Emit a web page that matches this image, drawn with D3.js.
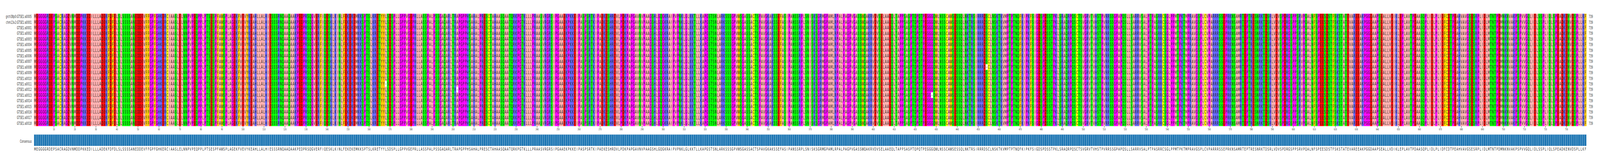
<!DOCTYPE html>
<html><head><meta charset="utf-8">
<script src="https://cdn.jsdelivr.net/npm/d3@7"></script>
<style>html,body{margin:0;padding:0;background:#fff;overflow:hidden;width:100%;height:100%}svg{display:block;width:100vw;height:100vh}</style>
</head><body><svg id="c" viewBox="0 0 7677 423" preserveAspectRatio="none"></svg>
<script>
const seqNames = ["grch38p0:GTSE1:a0005","chm13v2:GTSE1:a0001"].concat(d3.range(1,19).map(i=>"GTSE1:a"+String(i).padStart(4,"0")));
const seqSegments = [
"MEGGGGRDEPSACRAGDVNMDDPKKEDILLLADEKFDFDLSLSSSSANEDDEVFFGPFGHKERCIAASLELNNP",
"VPEQPPLPTSESPFAWSPLAGEKFVEVYKEAHLLALHIESSSRNQAAQAAKPEDPRSQGVERFIQESKLKINLFE",
"KEKEMKKSPTSLKRETYYLSDSPLLGPPVGEPRLLASSPALPSSGAQARLTRAPGPPHSAHALPRESCTAHAAS",
"QAATQRKPGTKLLLPRAASVRGRSIPGAAEKPKKEIPASPSRTKIPAEKESHRDVLPDKPAPGAVNVPAAGSHL",
"GQGKRAIPVPNKLGLKKTLLKAPGSTSNLARKSSSGPVWSGASSACTSPAVGKAKSSEFASIPANSSRPLSNIS",
"KSGRMGPAMLRPALPAGPVGASSWQAKRVDVSELAAEQLTAPPSASPTQPQTPEGGGQWLNSSCAWSESSQLNK",
"TRSIRRRDSCLNSKTKVMPTPTNQFKIPKFSIGDSPDSSTPKLSRAQRPQSCTSVGRVTVHSTPVRRSSGPAPQ",
"SLLSARRVSALPTPASRRCSGLPPMTPKTMPRAVGSPLCVPARRRSSEPRKNSAMRTEPTRESNRKTDSRLVDV",
"SPDRGSPPSRVPQALNFSPEESDSTFSKSTATEVAREEAKPGGDAAPSEALLVDIKLEPLAVTPDAASQPLIDL",
"PLIDFCDTPEAHVAVGSESRPLIDLMTNTPDMNKNVAKPSPVVGQLIDLSSPLIQLSPEADKENVDSPLLKF"];
// variant cells: [row, column(0-based), residue]
const variants = [[12,167,"-"],[13,201,"-"],[14,427,"-"],[9,453,"-"]];
const consensus = seqSegments.join("").split("");
const L = consensus.length;
const zappo = {I:"#ffafaf",L:"#ffafaf",V:"#ffafaf",A:"#ffafaf",M:"#ffafaf",F:"#ffc800",W:"#ffc800",Y:"#ffc800",
 K:"#6464ff",R:"#6464ff",H:"#6464ff",D:"#ff0000",E:"#ff0000",S:"#00ff00",T:"#00ff00",N:"#00ff00",Q:"#00ff00",
 P:"#ff00ff",G:"#ff00ff",C:"#ffff00","-":"#ffffff"};
const rows = seqNames.map((n,r)=>{const s=consensus.slice();variants.filter(v=>v[0]===r).forEach(v=>s[v[1]]=v[2]);return s;});

const svg = d3.select("#c");
const x = d3.scaleBand().domain(d3.range(1,L+1)).range([163,7612]);
const y = d3.scaleBand().domain(d3.range(seqNames.length)).range([35,323]);
const font = "DejaVu Sans, sans-serif";
const g = svg.append("g");
rows.forEach((s,r)=>{
  const rg = g.append("g");
  rg.selectAll("rect").data(s).join("rect").attr("x",(d,i)=>x(i+1)).attr("y",y(r))
    .attr("width",x.bandwidth()+0.3).attr("height",y.bandwidth()+0.3).attr("fill",d=>zappo[d]||"#ccc");
  rg.selectAll("text").data(s).join("text").attr("x",(d,i)=>x(i+1)+x.bandwidth()/2).attr("y",y(r)+y.bandwidth()/2+4.3)
    .attr("text-anchor","middle").attr("font-family",font).attr("font-size",12).attr("fill","#222").text(d=>d);
});
svg.append("g").selectAll("text").data(seqNames).join("text").attr("x",152).attr("y",(d,i)=>y(i)+y.bandwidth()/2+4)
  .attr("text-anchor","end").attr("font-family",font).attr("font-size",10.5).attr("fill","#333").text(d=>d);
svg.append("g").selectAll("text").data(seqNames).join("text").attr("x",7623).attr("y",(d,i)=>y(i)+y.bandwidth()/2+4)
  .attr("font-family",font).attr("font-size",10.5).attr("fill","#333").text(L);
const ax = d3.axisBottom(x).tickValues(d3.range(10,L+1,10)).tickSize(4).tickPadding(2);
const axg = svg.append("g").attr("transform","translate(0,323)").call(ax);
axg.select(".domain").remove();
axg.selectAll("text").attr("font-family",font).attr("font-size",7.5).attr("fill","#333");
axg.selectAll("line").attr("stroke","#333");
const cg = svg.append("g");
cg.selectAll("rect").data(consensus).join("rect").attr("x",(d,i)=>x(i+1)+0.4).attr("y",345)
  .attr("width",x.bandwidth()-0.8).attr("height",29).attr("fill","#1f77b4");
cg.append("rect").attr("x",163).attr("y",344.5).attr("width",7449).attr("height",0.8).attr("fill","#aac8e0");
cg.selectAll("text").data(consensus).join("text").attr("x",(d,i)=>x(i+1)+x.bandwidth()/2).attr("y",386)
  .attr("text-anchor","middle").attr("font-family",font).attr("font-size",11).attr("fill","#222").text(d=>d);
svg.append("text").attr("x",152).attr("y",366).attr("text-anchor","end").attr("font-family",font).attr("font-size",10.5).attr("fill","#333").text("Consensus");
</script></body></html>
